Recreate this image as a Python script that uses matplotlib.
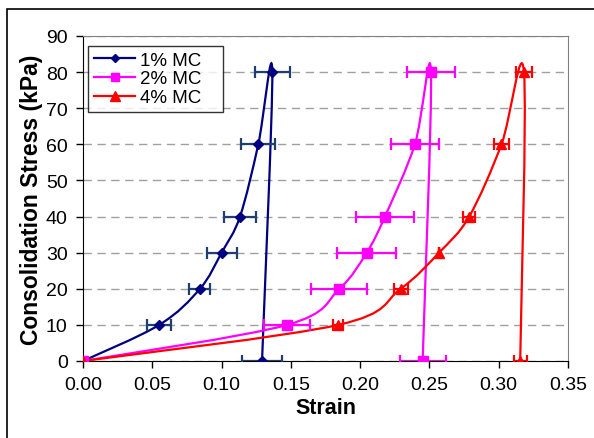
import numpy as np
import matplotlib.pyplot as plt
from matplotlib.path import Path
from matplotlib.patches import PathPatch, Rectangle

plt.rcParams['font.family'] = ['Liberation Sans', 'DejaVu Sans']

# consolidation stress steps (loading to 80 kPa, then unloading back to 0)
stress = [0, 10, 20, 30, 40, 60, 80, 0]
stress_red = [0, 10, 20, 30, 40, 60, 80, 0]

strain_1 = [0.0, 0.055, 0.0844, 0.100, 0.1133, 0.1265, 0.1366, 0.1292]
err_1 = [0.0, 0.0088, 0.0076, 0.0108, 0.0113, 0.0124, 0.0125, 0.0142]

strain_2 = [0.0, 0.1472, 0.185, 0.2047, 0.2179, 0.2395, 0.2511, 0.2451]
err_2 = [0.0, 0.0166, 0.0202, 0.0215, 0.0210, 0.0175, 0.0172, 0.0165]

strain_4 = [0.0, 0.1842, 0.2292, 0.2569, 0.2787, 0.302, 0.3182, 0.3155]
err_4 = [0.0, 0.0036, 0.0050, 0.0, 0.0045, 0.0056, 0.0055, 0.0047]

labels = ['1% MC', '2% MC', '4% MC']
colors = ['#000080', '#FF00FF', '#FF0000']
err_colors = ['#1F3F6F', '#FF00FF', '#FF0000']
markers = ['D', 's', '^']
msizes = [5, 6.5, 7]


def smooth_path(x, y):
    # Bezier segments with control points at P[i] +/- (P[i+1]-P[i-1])/6
    p = np.column_stack([x, y]).astype(float)
    n = len(p)
    verts = [p[0]]
    codes = [Path.MOVETO]
    for i in range(n - 1):
        p0 = p[i - 1] if i > 0 else p[i]
        p3 = p[i + 2] if i + 2 < n else p[i + 1]
        c1 = p[i] + (p[i + 1] - p0) / 6.0
        c2 = p[i + 1] - (p3 - p[i]) / 6.0
        verts += [c1, c2, p[i + 1]]
        codes += [Path.CURVE4] * 3
    return Path(verts, codes)


fig = plt.figure(figsize=(5.94, 4.39), dpi=100)
ax = fig.add_axes([83 / 594, 1 - 362 / 439, 485 / 594, 325 / 439])

series = [(strain_1, stress, err_1), (strain_2, stress, err_2), (strain_4, stress_red, err_4)]
for k, (sx, sy, se) in enumerate(series):
    ax.add_patch(PathPatch(smooth_path(sx, sy), facecolor='none',
                           edgecolor=colors[k], lw=1.6, zorder=3))
    ax.errorbar(sx[1:], sy[1:], xerr=se[1:], fmt='none', ecolor=err_colors[k],
                elinewidth=1.6, capsize=4.5, capthick=1.6, zorder=4)
    ax.plot(sx, sy, ls='none', marker=markers[k], ms=msizes[k],
            color=colors[k], zorder=5)
    # legend handle: line with marker
    ax.plot([], [], color=colors[k], lw=1.6, marker=markers[k],
            ms=msizes[k] - 0.5, label=labels[k])

ax.set_xlim(0, 0.35)
ax.set_ylim(0, 90)
ax.set_xticks(np.arange(0, 0.351, 0.05))
ax.set_yticks(np.arange(0, 91, 10))
ax.set_xticklabels(['%.2f' % v for v in np.arange(0, 0.351, 0.05)])
ax.tick_params(direction='out', length=5, width=1, labelsize=14, pad=6)
ax.yaxis.grid(True, ls=(0, (6, 4)), color='#A0A0A0', lw=1)
ax.set_axisbelow(True)
for s in ['top', 'right']:
    ax.spines[s].set_color('#808080')
for s in ['left', 'bottom']:
    ax.spines[s].set_color('black')

ax.set_xlabel('Strain', fontsize=15.5, fontweight='bold', labelpad=3)
ax.set_ylabel('Consolidation Stress (kPa)', fontsize=16.5, fontweight='bold', labelpad=2)

leg = ax.legend(loc='upper left', bbox_to_anchor=(0.011, 0.969 - 0.2, 0.278, 0.2),
                mode='expand', borderaxespad=0,
                fontsize=13.5, frameon=True, fancybox=False, edgecolor='black',
                handlelength=2.2, handletextpad=0.25, labelspacing=0.08,
                borderpad=0.3)
leg.get_frame().set_linewidth(1)

# chart area border
fig.patches.append(Rectangle((7 / 594, -0.5), 2, 1.5 - 9.5 / 439, transform=fig.transFigure,
                             fill=False, edgecolor='black', lw=1.2))

fig.savefig('out.png', dpi=100)
